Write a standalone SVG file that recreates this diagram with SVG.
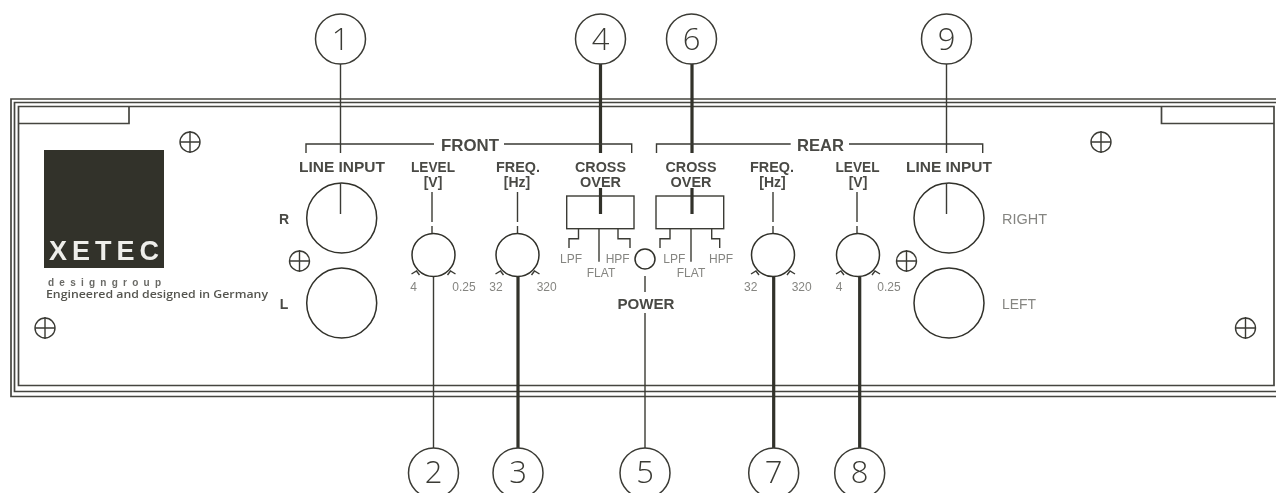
<svg xmlns="http://www.w3.org/2000/svg" width="1276" height="493" viewBox="0 0 1276 493">
<style>
.l{fill:none;stroke:#3a3a34;stroke-width:1.4}
.t{fill:none;stroke:#30302a;stroke-width:3.2}
.c{fill:#fff;stroke:#3a3a34;stroke-width:1.5}
.k{fill:#fff;stroke:#30302a;stroke-width:1.5}
.f{fill:none;stroke:#45453f;stroke-width:1.7}
.h{font-family:"Liberation Sans",Arial,sans-serif;font-size:14px;font-weight:bold;fill:#4a4a45;text-anchor:middle}
.b{font-size:16.5px}
.s{font-family:"Liberation Sans",Arial,sans-serif;font-size:12px;fill:#858581;text-anchor:middle}
.m{font-size:14px;text-anchor:start}
.n{font-family:"Open Sans","Noto Sans",sans-serif;font-size:31px;font-weight:300;fill:#3a3a34;text-anchor:middle}
</style>
<defs>
<filter id="soft" x="0" y="0" width="100%" height="100%"><feGaussianBlur stdDeviation="0.4"/></filter>
<g id="screw"><circle r="10" class="l"/><path d="M-10 0H10M0-11V11" class="l"/></g>
<path id="ticks" d="M-22 19l5 -3l3 4M22 19l-5 -3l-3 4" class="l"/>
</defs>
<g filter="url(#soft)">
<rect width="1276" height="493" fill="#fff"/>
<g id="panel">
<path class="f" d="M1276 99H11V396.500H1276"/>
<path class="f" d="M1276 102.500H14.500V391.500H1276"/>
<path class="f" d="M18.500 106.500H1274V385.500H18.500Z"/>
<path class="f" d="M18.500 123.500H129V106.500M1274 123.500H1161.500V106.500"/>
</g>
<g id="logo">
<rect x="44" y="150" width="120" height="118" fill="#30302a"/>
<text x="49" y="260" font-family="Liberation Sans,sans-serif" font-size="27" font-weight="bold" fill="#eeeeea" textLength="110" lengthAdjust="spacing">XETEC</text>
<text x="48" y="286" font-family="Liberation Sans,sans-serif" font-size="10" font-weight="bold" fill="#6a6a66" textLength="113" lengthAdjust="spacing">designgroup</text>
<text x="46" y="298" font-family="Open Sans,sans-serif" font-size="10.500" font-weight="600" fill="#55554f" textLength="222" lengthAdjust="spacingAndGlyphs">Engineered and designed in Germany</text>
</g>
<g id="screws">
<use href="#screw" x="190" y="142"/><use href="#screw" x="45" y="328"/><use href="#screw" x="299.500" y="261"/>
<use href="#screw" x="1101" y="142"/><use href="#screw" x="906.500" y="261"/><use href="#screw" x="1245.500" y="328"/>
</g>
<g id="connectors">
<path class="l" d="M340.500 64V153M946.500 64V153M433.500 277V448M645 313V448M645 276V292"/>
<path class="t" d="M600.500 64V153M692 64V153M518 277V448M773.700 277V448M859.700 277V448"/>
<path class="l" d="M306 153V144H434M504 144H631.700V153M656.500 153V144H790.700M849 144H982.700V153"/>
<path class="l" d="M432 192V222M517.500 192V222M773 192V222M857 192V222M432 226V234M517.500 226V234M773 226V234M857 226V234"/>
</g>
<g id="front-labels">
<text class="h b" x="470" y="151" textLength="58" lengthAdjust="spacingAndGlyphs">FRONT</text>
<text class="h" x="342" y="172" textLength="86" lengthAdjust="spacingAndGlyphs">LINE INPUT</text>
<text class="h" x="433" y="172" textLength="44" lengthAdjust="spacingAndGlyphs">LEVEL</text>
<text class="h" x="433" y="187">[V]</text>
<text class="h" x="518" y="172" textLength="44" lengthAdjust="spacingAndGlyphs">FREQ.</text>
<text class="h" x="517" y="187">[Hz]</text>
<text class="h" x="600.500" y="172" textLength="51" lengthAdjust="spacingAndGlyphs">CROSS</text>
<text class="h" x="600.500" y="187" textLength="41" lengthAdjust="spacingAndGlyphs">OVER</text>
<text class="h" x="284" y="224">R</text>
<text class="h" x="284" y="309">L</text>
</g>
<g id="rear-labels">
<text class="h b" x="820.500" y="151" textLength="47" lengthAdjust="spacingAndGlyphs">REAR</text>
<text class="h" x="691" y="172" textLength="51" lengthAdjust="spacingAndGlyphs">CROSS</text>
<text class="h" x="691" y="187" textLength="41" lengthAdjust="spacingAndGlyphs">OVER</text>
<text class="h" x="772" y="172" textLength="44" lengthAdjust="spacingAndGlyphs">FREQ.</text>
<text class="h" x="772.500" y="187">[Hz]</text>
<text class="h" x="857.500" y="172" textLength="44" lengthAdjust="spacingAndGlyphs">LEVEL</text>
<text class="h" x="858" y="187">[V]</text>
<text class="h" x="949" y="172" textLength="86" lengthAdjust="spacingAndGlyphs">LINE INPUT</text>
<text class="s m" x="1002" y="224" textLength="45" lengthAdjust="spacingAndGlyphs">RIGHT</text>
<text class="s m" x="1002" y="309" textLength="34" lengthAdjust="spacingAndGlyphs">LEFT</text>
</g>
<g id="knob-r-front"><circle class="k" cx="341.700" cy="218" r="35"/><path class="l" d="M340.500 183V214"/></g>
<g id="knob-l-front"><circle class="k" cx="341.700" cy="303" r="35"/></g>
<g id="knob-r-rear"><circle class="k" cx="949" cy="218" r="35"/><path class="l" d="M946.500 183V214"/></g>
<g id="knob-l-rear"><circle class="k" cx="949" cy="303" r="35"/></g>
<g id="level-front"><circle class="k" cx="433.500" cy="255" r="21.500"/><use href="#ticks" x="433.500" y="255"/><text class="s" x="413.700" y="290.500">4</text><text class="s" x="464" y="290.500">0.25</text></g>
<g id="freq-front"><circle class="k" cx="517.500" cy="255" r="21.500"/><use href="#ticks" x="517.500" y="255"/><text class="s" x="496" y="290.500">32</text><text class="s" x="546.700" y="290.500">320</text></g>
<g id="freq-rear"><circle class="k" cx="773" cy="255" r="21.500"/><use href="#ticks" x="773" y="255"/><text class="s" x="750.700" y="290.500">32</text><text class="s" x="801.700" y="290.500">320</text></g>
<g id="level-rear"><circle class="k" cx="858" cy="255" r="21.500"/><use href="#ticks" x="858" y="255"/><text class="s" x="839" y="290.500">4</text><text class="s" x="889" y="290.500">0.25</text></g>
<g id="crossover-front">
<rect class="l" x="566.700" y="196" width="67.300" height="32.700"/>
<path class="t" d="M600.500 188V214"/>
<path class="l" d="M578.500 228.700V238.700H569V248M599 228.700V261.700M618 228.700V238.700H630V248"/>
<text class="s" x="571" y="263">LPF</text><text class="s" x="617.700" y="263">HPF</text><text class="s" x="601" y="277">FLAT</text>
</g>
<g id="crossover-rear">
<rect class="l" x="656" y="196" width="67.700" height="32.700"/>
<path class="t" d="M692 188V214"/>
<path class="l" d="M670 228.700V238.700H660V248M691 228.700V261.700M711.700 228.700V238.700H719.700V248"/>
<text class="s" x="674.300" y="263">LPF</text><text class="s" x="721" y="263">HPF</text><text class="s" x="691" y="277">FLAT</text>
</g>
<g id="power"><circle class="k" cx="645" cy="259" r="10"/><text class="h" x="646" y="309" textLength="57" lengthAdjust="spacingAndGlyphs">POWER</text></g>
<g id="n1"><circle class="c" cx="340.500" cy="39" r="25"/><text class="n" x="340.500" y="50">1</text></g>
<g id="n4"><circle class="c" cx="600.500" cy="39" r="25"/><text class="n" x="600.500" y="50">4</text></g>
<g id="n6"><circle class="c" cx="691.500" cy="39" r="25"/><text class="n" x="691.500" y="50">6</text></g>
<g id="n9"><circle class="c" cx="946.500" cy="39" r="25"/><text class="n" x="946.500" y="50">9</text></g>
<g id="n2"><circle class="c" cx="433.500" cy="473" r="25"/><text class="n" x="433.500" y="483">2</text></g>
<g id="n3"><circle class="c" cx="518" cy="473" r="25"/><text class="n" x="518" y="483">3</text></g>
<g id="n5"><circle class="c" cx="645" cy="473" r="25"/><text class="n" x="645" y="483">5</text></g>
<g id="n7"><circle class="c" cx="773.700" cy="473" r="25"/><text class="n" x="773.700" y="483">7</text></g>
<g id="n8"><circle class="c" cx="859.700" cy="473" r="25"/><text class="n" x="859.700" y="483">8</text></g>
</g>
</svg>
